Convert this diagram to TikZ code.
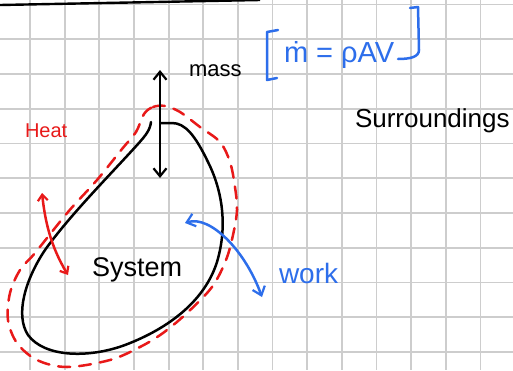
\documentclass[tikz,border=0pt]{standalone}
\usepackage{fontspec}
\setmainfont{Liberation Sans}
\usetikzlibrary{arrows.meta}
\definecolor{redpen}{RGB}{232,25,25}
\definecolor{bluepen}{RGB}{45,110,235}
\definecolor{gridgray}{RGB}{205,205,205}
\tikzset{
  pen/.style={line width=2.5pt, line cap=round, line join=round},
  hbarb/.tip={Straight Barb[length=8pt,width=13pt,line width=2.2pt]},
  sbarb/.tip={Straight Barb[length=6pt,width=10pt,line width=2.2pt]},
  hand/.style={inner sep=0pt, outer sep=0pt},
}
\begin{document}
\begin{tikzpicture}[x=1pt,y=-1pt]
\useasboundingbox (0,0) rectangle (513,370);
\fill[white] (0,0) rectangle (513,370);
% grid
\foreach \i in {0,...,14} {
  \draw[gridgray, line width=1.8pt] ({30+34.65*\i},0) -- ({30+34.65*\i},370);
}
\foreach \j in {0,...,10} {
  \draw[gridgray, line width=1.8pt] (0,{4.4+34.75*\j}) -- (513,{4.4+34.75*\j});
}
% top black line
\coordinate (tl) at (0,5);
\coordinate (tr) at (260,0);
\draw[black, line width=2.4pt] (tl) -- (tr);

% red dashed boundary
\draw[redpen, pen, dash pattern=on 12pt off 9pt]
  plot[smooth cycle, tension=0.55] coordinates {
   (144,114) (153,107) (165,106) (180,112) (200,127) (220,142) (230,162)
   (235,187) (237,210) (233,235) (226,260) (212,287) (187,313) (163,333)
   (140,347) (110,360) (67,367) (37,360) (17,343) (8,320) (10,293)
   (20,270) (35,253) (68,212) (97,180) (122,149) (136,132)};

% black system curve
\coordinate (sysL) at (151,122);
\coordinate (sysR) at (161,123);
\draw[black, pen] (sysL) .. controls (150,130) and (146,135) .. (138,144)
  .. controls (110,175) and (70,215) .. (45,250)
  .. controls (25,280) and (15,315) .. (28,335)
  .. controls (45,358) and (90,358) .. (125,345)
  .. controls (170,328) and (205,300) .. (217,262)
  .. controls (228,225) and (222,190) .. (208,162)
  .. controls (195,135) and (185,123) .. (172,123)
  -- (sysR);

% mass arrow
\coordinate (massTop) at (160,70);
\coordinate (massBot) at (160,178);
\draw[black, pen, {hbarb}-{hbarb}] (massTop) -- (massBot);

% heat arrow
\coordinate (heatTop) at (42,193);
\coordinate (heatBot) at (68,275);
\draw[redpen, pen, {sbarb}-{sbarb}] (heatTop) .. controls (45,220) and (50,245) .. (heatBot);

% work arrow
\coordinate (workTop) at (185,223);
\coordinate (workBot) at (262,297);
\draw[bluepen, pen, {hbarb}-{hbarb}] (workTop) .. controls (210,215) and (245,250) .. (workBot);

% brackets of formula
\coordinate (lbr) at (267,32);
\coordinate (rbr) at (418,7);
\draw[bluepen, pen] (278,30) -- (lbr) -- (267,80) -- (277,78);
\draw[bluepen, pen] (410,8) -- (rbr) -- (419,50) .. controls (419,57) and (410,59) .. (398,59);

% texts
\node[hand, anchor=base west, text=bluepen, font=\fontsize{29}{33}\selectfont] (formula) at (284,62) {ṁ = ρAV};
\node[hand, anchor=base west, font=\fontsize{22}{26}\selectfont] (mass) at (189,76) {mass};
\node[hand, anchor=base west, font=\fontsize{26}{30}\selectfont] (surr) at (355,127) {Surroundings};
\node[hand, anchor=base west, text=redpen, font=\fontsize{20}{24}\selectfont] (heat) at (25,137) {Heat};
\node[hand, anchor=base west, font=\fontsize{27}{31}\selectfont] (system) at (92,276) {System};
\node[hand, anchor=base west, text=bluepen, font=\fontsize{28}{32}\selectfont] (work) at (279,283) {work};
\end{tikzpicture}
\end{document}
